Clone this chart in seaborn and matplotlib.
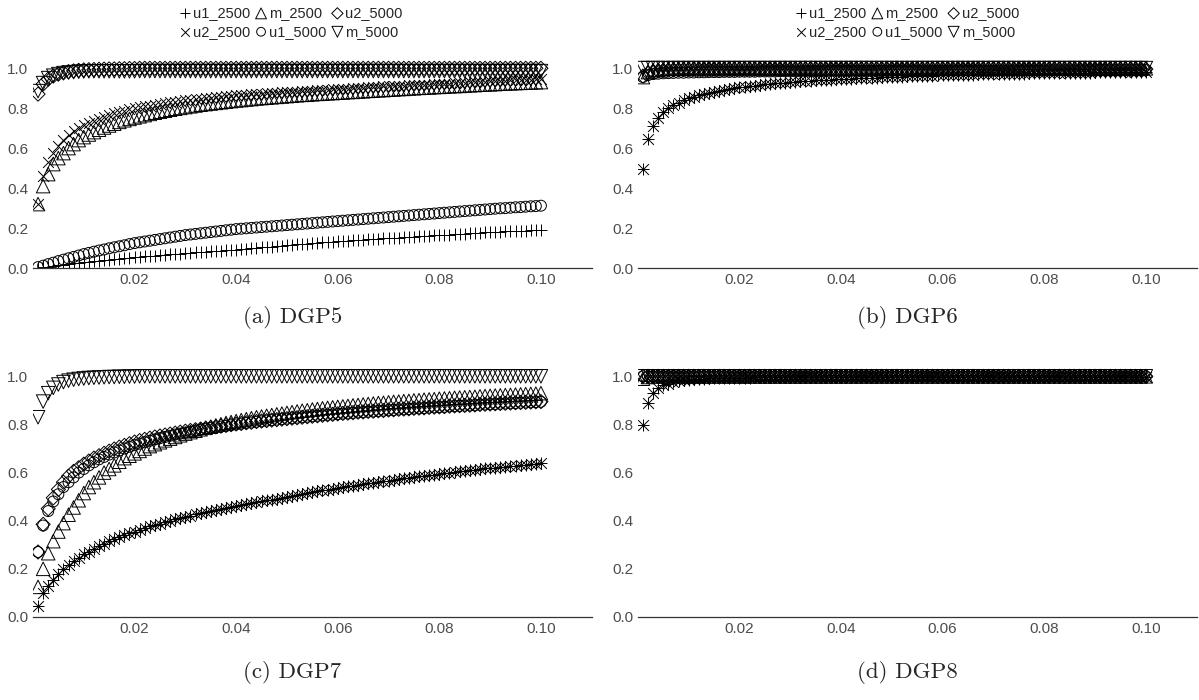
import matplotlib
matplotlib.use("Agg")
import matplotlib.pyplot as plt
import pandas as pd
import seaborn as sns

# test size grid (x axis)
alpha = [k / 1000 for k in range(1, 101)]

series_names = ["u1_2500", "u2_2500", "m_2500", "u1_5000", "u2_5000", "m_5000"]
series_markers = {"u1_2500": "+", "u2_2500": "x", "m_2500": "^",
                  "u1_5000": "o", "u2_5000": "D", "m_5000": "v"}
panel_captions = ["(a) DGP5", "(b) DGP6", "(c) DGP7", "(d) DGP8"]

# ---- DGP5 ----
dgp5_u1_2500 = [
    .002, .005, .008, .011, .015, .018, .021, .024, .027, .030,
    .033, .035, .038, .040, .043, .045, .048, .050, .053, .055,
    .057, .059, .061, .063, .065, .067, .069, .071, .073, .075,
    .077, .079, .081, .083, .085, .087, .088, .090, .092, .093,
    .095, .097, .099, .101, .104, .106, .108, .110, .112, .115,
    .117, .119, .121, .123, .125, .127, .129, .131, .133, .135,
    .137, .138, .140, .141, .143, .144, .146, .147, .149, .150,
    .152, .153, .155, .156, .158, .159, .161, .162, .164, .165,
    .167, .168, .170, .171, .173, .174, .176, .177, .179, .180,
    .181, .183, .184, .185, .186, .187, .188, .189, .191, .192]
dgp5_u2_2500 = [
    .320, .460, .530, .575, .610, .640, .665, .685, .700, .715,
    .727, .738, .748, .757, .766, .774, .781, .788, .794, .800,
    .805, .809, .813, .817, .821, .825, .829, .833, .837, .840,
    .843, .845, .848, .850, .853, .855, .858, .860, .863, .865,
    .867, .868, .870, .871, .873, .874, .876, .877, .879, .880,
    .882, .883, .885, .886, .888, .889, .891, .892, .894, .895,
    .897, .898, .900, .901, .903, .904, .906, .907, .909, .910,
    .911, .912, .913, .914, .915, .916, .917, .918, .919, .920,
    .921, .923, .924, .926, .927, .929, .930, .932, .933, .935,
    .936, .937, .938, .939, .940, .941, .942, .943, .944, .945]
dgp5_m_2500 = [
    .320, .410, .470, .520, .550, .575, .600, .620, .640, .655,
    .668, .680, .692, .703, .713, .722, .731, .739, .746, .753,
    .759, .765, .771, .777, .782, .787, .792, .797, .801, .805,
    .809, .813, .817, .820, .823, .826, .829, .832, .835, .838,
    .840, .843, .845, .848, .850, .852, .854, .856, .858, .860,
    .862, .864, .866, .867, .869, .871, .872, .874, .875, .877,
    .878, .880, .881, .883, .884, .886, .887, .889, .890, .892,
    .893, .895, .896, .898, .899, .901, .902, .903, .905, .906,
    .907, .909, .910, .911, .913, .914, .915, .917, .918, .919,
    .920, .922, .923, .924, .925, .926, .927, .928, .929, .930]
dgp5_u1_5000 = [
    .005, .012, .020, .027, .035, .042, .049, .056, .063, .070,
    .076, .082, .088, .093, .099, .104, .109, .114, .120, .125,
    .129, .133, .137, .141, .145, .149, .153, .157, .161, .165,
    .168, .171, .174, .177, .180, .183, .186, .189, .192, .195,
    .197, .199, .201, .203, .205, .207, .209, .211, .213, .215,
    .217, .219, .221, .223, .225, .227, .229, .231, .233, .235,
    .237, .239, .241, .243, .245, .247, .249, .251, .253, .255,
    .257, .259, .261, .263, .265, .267, .269, .271, .273, .275,
    .277, .279, .281, .283, .285, .287, .289, .291, .293, .295,
    .297, .299, .300, .302, .304, .305, .307, .309, .310, .312]
dgp5_u2_5000 = [
    .870, .920, .945, .960, .970, .977, .982, .986, .989, .991,
    .992, .993, .994, .995, .996, .996, .997, .997, .998, .998] + [.999] * 80
dgp5_m_5000 = [
    .885, .925, .950, .962, .970, .975, .978, .980, .982, .983] + [.984] * 10 + [.985] * 80

# ---- DGP6 ----
dgp6_u1_2500 = [
    .495, .645, .710, .750, .780, .800, .815, .828, .840, .850,
    .858, .866, .872, .878, .883, .888, .892, .896, .900, .904,
    .907, .910, .913, .916, .919, .922, .924, .926, .928, .930,
    .932, .934, .936, .937, .939, .940, .942, .943, .944, .945,
    .947, .948, .949, .950, .951, .952, .953, .954, .955, .956,
    .957, .958, .959, .960, .961, .961, .962, .963, .964, .964,
    .965, .966, .966, .967, .968, .968, .969, .969, .970, .970,
    .971, .971, .972, .972, .973, .973, .974, .974, .975, .975,
    .976, .976, .976, .977, .977, .977, .978, .978, .978, .979,
    .979, .979, .980, .980, .980, .981, .981, .981, .982, .982]
dgp6_u2_2500 = list(dgp6_u1_2500)
dgp6_m_2500 = [.955, .980, .990, .993, .995, .996, .997, .997, .998, .998] + [.999] * 90
dgp6_u1_5000 = [
    .955, .965, .970, .972, .974, .975, .976, .977, .977, .978,
    .978, .979, .979, .980, .980, .980, .981, .981, .981, .982,
    .982, .982, .982, .983, .983, .983, .983, .984, .984, .984,
    .984, .984, .985, .985, .985, .985, .985, .986, .986, .986] + \
    [.986] * 10 + [.987] * 20 + [.988] * 10 + [.989] * 10 + [.990] * 10
dgp6_u2_5000 = [.960, .975, .982, .986, .988, .990, .991, .992, .993, .993] + [.994] * 20 + [.995] * 70
dgp6_m_5000 = [1.0] * 100

# ---- DGP7 ----
dgp7_u1_2500 = [
    .045, .100, .130, .155, .178, .198, .216, .232, .247, .260,
    .272, .283, .294, .304, .314, .323, .332, .340, .348, .355,
    .362, .369, .376, .382, .388, .394, .400, .406, .411, .416,
    .421, .426, .431, .436, .440, .444, .448, .452, .456, .460,
    .464, .468, .472, .476, .480, .484, .488, .492, .496, .500,
    .504, .508, .512, .515, .519, .522, .526, .529, .533, .536,
    .539, .543, .546, .549, .552, .555, .558, .561, .564, .567,
    .570, .573, .576, .579, .582, .584, .587, .590, .592, .595,
    .598, .600, .603, .605, .608, .610, .612, .615, .617, .619,
    .621, .623, .625, .627, .629, .631, .633, .635, .637, .639]
dgp7_u2_2500 = list(dgp7_u1_2500)
dgp7_m_2500 = [
    .125, .200, .265, .315, .355, .390, .425, .455, .485, .515,
    .540, .560, .580, .600, .615, .630, .645, .660, .670, .680,
    .690, .700, .710, .718, .726, .734, .741, .748, .755, .762,
    .768, .774, .780, .786, .791, .796, .801, .806, .810, .814,
    .818, .822, .826, .830, .833, .836, .839, .842, .845, .848,
    .851, .854, .857, .859, .862, .864, .867, .869, .871, .873,
    .875, .877, .879, .881, .883, .885, .887, .889, .890, .892,
    .894, .895, .897, .898, .900, .901, .903, .904, .905, .907,
    .908, .909, .911, .912, .913, .914, .915, .917, .918, .919,
    .920, .921, .922, .923, .924, .925, .926, .927, .928, .930]
dgp7_u1_5000 = [
    .270, .380, .440, .480, .510, .540, .560, .580, .600, .615,
    .630, .643, .655, .665, .675, .684, .692, .700, .707, .714,
    .720, .726, .732, .738, .743, .748, .753, .758, .762, .766,
    .770, .774, .778, .782, .785, .788, .791, .794, .797, .800,
    .803, .806, .808, .811, .813, .816, .818, .820, .822, .824,
    .826, .828, .830, .832, .834, .836, .838, .840, .841, .843,
    .845, .846, .848, .850, .851, .853, .854, .856, .857, .859,
    .860, .862, .863, .864, .866, .867, .868, .870, .871, .872,
    .873, .875, .876, .877, .878, .879, .880, .882, .883, .884,
    .885, .886, .887, .888, .889, .890, .891, .892, .893, .894]
dgp7_u2_5000 = [
    .270, .385, .450, .495, .530, .560, .585, .605, .620, .635,
    .648, .660, .670, .680, .689, .698, .706, .713, .720, .727,
    .733, .738, .743, .748, .752, .756, .760, .764, .768, .772,
    .775, .778, .781, .784, .787, .790, .793, .796, .799, .802,
    .804, .807, .809, .812, .814, .816, .818, .820, .822, .824,
    .826, .828, .830, .832, .834, .836, .838, .840, .842, .844,
    .846, .847, .849, .851, .852, .854, .855, .857, .858, .860,
    .861, .863, .864, .865, .867, .868, .869, .871, .872, .873,
    .874, .876, .877, .878, .879, .880, .881, .883, .884, .885,
    .886, .887, .888, .889, .890, .891, .892, .893, .894, .895]
dgp7_m_5000 = [
    .830, .895, .930, .952, .966, .976, .982, .986, .989, .991,
    .993, .994, .995, .996, .997, .997, .998, .998, .999, .999] + [1.0] * 80

# ---- DGP8 ----
dgp8_u1_2500 = [
    .797, .890, .930, .950, .962, .970, .976, .980, .983, .986,
    .988, .989, .990, .991, .992, .993, .993, .994, .994, .995,
    .995, .995, .996, .996, .996, .996, .997, .997, .997, .997] + [.998] * 70
dgp8_u2_2500 = list(dgp8_u1_2500)
dgp8_m_2500 = [.990, .997] + [1.0] * 98
dgp8_u1_5000 = [1.0] * 100
dgp8_u2_5000 = [1.0] * 100
dgp8_m_5000 = [1.0] * 100

panels = [
    [dgp5_u1_2500, dgp5_u2_2500, dgp5_m_2500, dgp5_u1_5000, dgp5_u2_5000, dgp5_m_5000],
    [dgp6_u1_2500, dgp6_u2_2500, dgp6_m_2500, dgp6_u1_5000, dgp6_u2_5000, dgp6_m_5000],
    [dgp7_u1_2500, dgp7_u2_2500, dgp7_m_2500, dgp7_u1_5000, dgp7_u2_5000, dgp7_m_5000],
    [dgp8_u1_2500, dgp8_u2_2500, dgp8_m_2500, dgp8_u1_5000, dgp8_u2_5000, dgp8_m_5000],
]

sns.set_style("white")
plt.rcParams["font.family"] = ["Liberation Sans", "DejaVu Sans"]

fig = plt.figure(figsize=(11.99, 7.0), dpi=100)
# axes rectangles in figure fractions
rects = [
    (0.0275, 0.617, 0.466, 0.300),
    (0.532, 0.617, 0.466, 0.300),
    (0.0275, 0.1186, 0.466, 0.361),
    (0.532, 0.1186, 0.466, 0.361),
]
marker_size = {"+": 80, "x": 60, "^": 95, "o": 62, "D": 52, "v": 95}

axes = []
for rect, values in zip(rects, panels):
    ax = fig.add_axes(rect)
    for name, vals in zip(series_names, values):
        df = pd.DataFrame({"alpha": alpha, "power": vals})
        m = series_markers[name]
        if m in ("+", "x"):
            sns.scatterplot(data=df, x="alpha", y="power", marker=m, color="black",
                            s=marker_size[m], linewidth=0.7, ax=ax, legend=False, label=name)
        else:
            sns.scatterplot(data=df, x="alpha", y="power", marker=m, facecolor="none",
                            edgecolor="black", s=marker_size[m], linewidth=0.7,
                            ax=ax, legend=False, label=name)
    ax.set_xlim(0, 0.11)
    ax.set_ylim(0, 1.05)
    ax.set_xticks([0.02, 0.04, 0.06, 0.08, 0.10])
    ax.set_xticklabels(["0.02", "0.04", "0.06", "0.08", "0.10"])
    ax.set_yticks([0.0, 0.2, 0.4, 0.6, 0.8, 1.0])
    ax.set_yticklabels(["0.0", "0.2", "0.4", "0.6", "0.8", "1.0"])
    ax.set_xlabel("")
    ax.set_ylabel("")
    for side in ["left", "top", "right"]:
        ax.spines[side].set_visible(False)
    ax.spines["bottom"].set_color("#333333")
    ax.spines["bottom"].set_linewidth(0.9)
    ax.tick_params(axis="both", length=2, width=0.6, color="#555555",
                   labelcolor="#4d4d4d", labelsize=11, pad=1.5)
    ax.patch.set_alpha(0)
    axes.append(ax)

# legends above the two top panels
for ax, xc in [(axes[0], 0.242), (axes[1], 0.756)]:
    handles, labels = ax.get_legend_handles_labels()
    fig.legend(handles, labels, loc="center", bbox_to_anchor=(xc, 0.968), ncol=3,
               frameon=False, fontsize=10.5, handletextpad=0.05, columnspacing=0.25,
               labelspacing=0.3, handlelength=1.0, borderpad=0.1, markerscale=0.8)

caption_pos = [(0.244, 0.546), (0.757, 0.546), (0.244, 0.040), (0.757, 0.040)]
for (cx, cy), cap in zip(caption_pos, panel_captions):
    fig.text(cx, cy, cap, ha="center", va="center", fontsize=16.5,
             family=["cmr10", "DejaVu Serif"])

fig.savefig("out.png", dpi=100)
